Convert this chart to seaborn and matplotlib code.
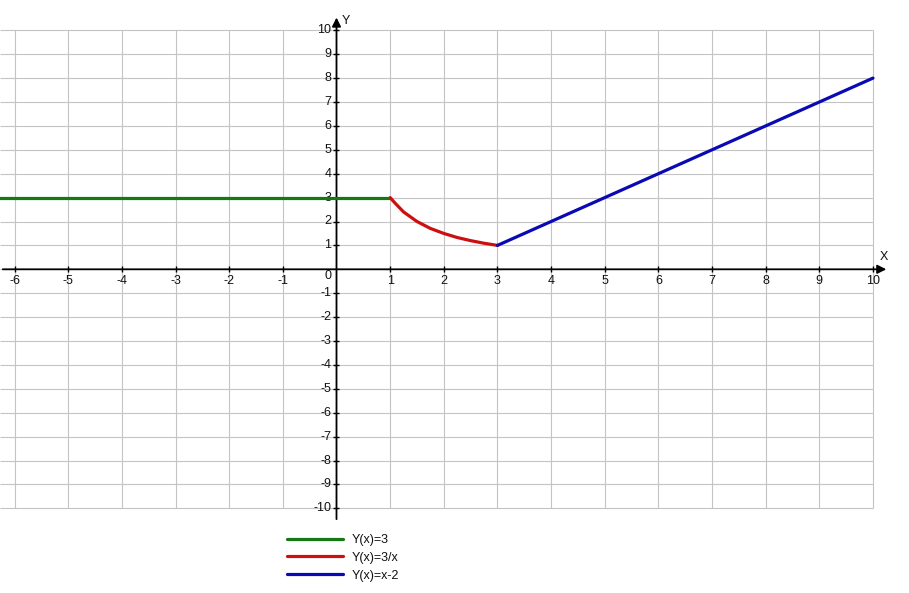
import numpy as np
import pandas as pd
import seaborn as sns
import matplotlib.pyplot as plt

# values
x_ticks = list(range(-6, 11))
y_ticks = list(range(-10, 11))

green_x = [-6.3, 1.0]
green_y = [3.0, 3.0]
red_x = [1.0, 1.1, 1.25, 1.5, 1.75, 2.0, 2.25, 2.5, 2.75, 3.0]
red_y = [3.0, 2.75, 2.4, 2.0, 1.71, 1.5, 1.33, 1.2, 1.09, 1.0]
blue_x = [3.0, 10.0]
blue_y = [1.0, 8.0]

labels = ['Y(x)=3', 'Y(x)=3/x', 'Y(x)=x-2']
colors = ['#137a13', '#cc1010', '#0a0ab4']

df = pd.concat([
    pd.DataFrame({'x': green_x, 'y': green_y, 'f': labels[0]}),
    pd.DataFrame({'x': red_x, 'y': red_y, 'f': labels[1]}),
    pd.DataFrame({'x': blue_x, 'y': blue_y, 'f': labels[2]}),
])

sns.set_theme(style='white')
plt.rcParams['font.family'] = ['Liberation Sans', 'DejaVu Sans']

fig = plt.figure(figsize=(9.09, 5.93), dpi=100)
ax = fig.add_axes([0, 0, 1, 1])

# pixel mapping of the original: origin at (336.5, 269.3), 53.65 px per x unit, 23.9 px per y unit
ox, oy, ux, uy = 336.5, 269.3, 53.65, 23.9
ax.set_xlim(-ox / ux, (909 - ox) / ux)
ax.set_ylim(-(593 - oy) / uy, oy / uy)
ax.set_axis_off()

txt_c = '#111111'
fs = 9

# grid
grid_c = '#c4c4c4'
ax.vlines(x_ticks, -10, 10, color=grid_c, lw=0.8, zorder=1)
ax.hlines(y_ticks, ax.get_xlim()[0], 10, color=grid_c, lw=0.8, zorder=1)

# axes with arrows
ax.annotate('', xy=(10.3, 0), xytext=(ax.get_xlim()[0], 0),
            arrowprops=dict(arrowstyle='-|>', color='black', lw=1.3, mutation_scale=13), zorder=3)
ax.annotate('', xy=(0, 10.65), xytext=(0, -10.57),
            arrowprops=dict(arrowstyle='-|>', color='black', lw=1.3, mutation_scale=13), zorder=3)
ax.text(10.13, 0.25, 'X', fontsize=fs, ha='left', va='bottom', color=txt_c)
ax.text(0.1, 10.4, 'Y', fontsize=fs, ha='left', va='center', color=txt_c)

# tick marks crossing the axes
xt = [v for v in x_ticks if v != 0]
yt = [v for v in y_ticks if v != 0]
ax.plot(xt, [0] * len(xt), ls='none', marker='|', ms=4.5, mew=1, color='black', zorder=3)
ax.plot([0] * len(yt), yt, ls='none', marker='_', ms=4.5, mew=1, color='black', zorder=3)

for v in xt:
    ax.annotate(str(v), (v, 0), xytext=(0, -8.5), textcoords='offset points',
                ha='center', va='center', fontsize=fs, color=txt_c)
for v in yt:
    ax.annotate(str(v), (0, v), xytext=(-3.8, 0), textcoords='offset points',
                ha='right', va='center', fontsize=fs, color=txt_c)
ax.annotate('0', (0, 0), xytext=(-3.8, -4.5), textcoords='offset points',
            ha='right', va='center', fontsize=fs, color=txt_c)

# curves
sns.lineplot(data=df, x='x', y='y', hue='f', palette=colors, sort=False,
             lw=2.3, ax=ax, zorder=4, legend=True)

handles, labs = ax.get_legend_handles_labels()
ax.get_legend().remove()
fig.legend(handles, labs, loc='upper left', bbox_to_anchor=(287 / 909, 1 - 534 / 593),
           frameon=False, fontsize=fs, handlelength=4.45, handletextpad=0.75,
           labelspacing=0.46, borderpad=0, borderaxespad=0, labelcolor=txt_c)

fig.savefig('out.png', dpi=100, facecolor='white')
